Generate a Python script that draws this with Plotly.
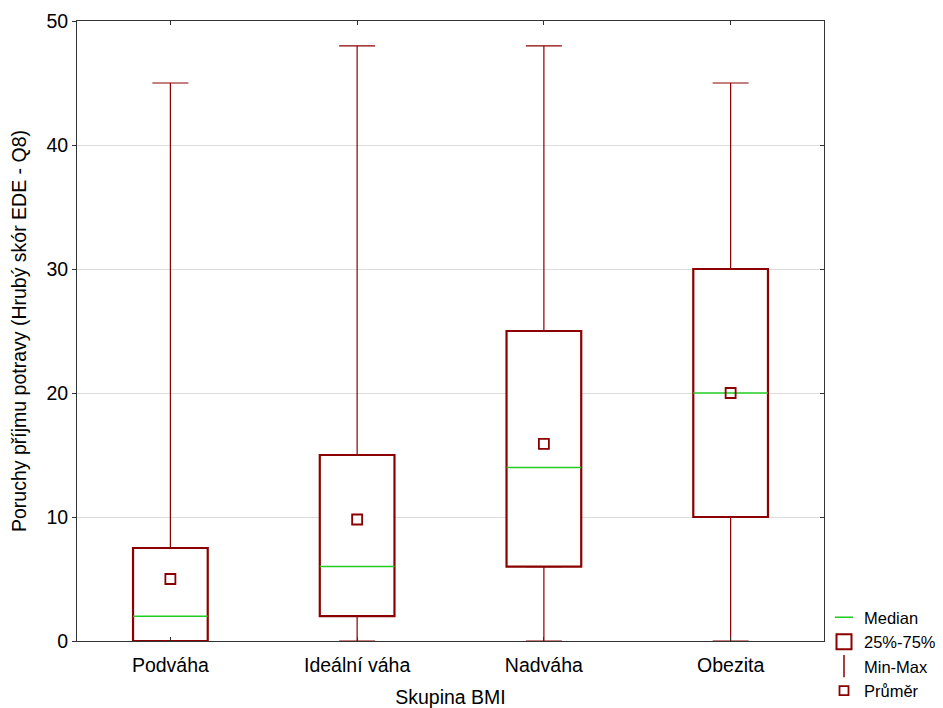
import plotly.graph_objects as go

categories = ["Podváha", "Ideální váha", "Nadváha", "Obezita"]
mins = [0, 0, 0, 0]
q1 = [0, 2, 6, 10]
medians = [2, 6, 14, 20]
q3 = [7.5, 15, 25, 30]
maxs = [45, 48, 48, 45]
means = [5.0, 9.8, 15.9, 20.0]

DARK = "#8B0000"
GREEN = "#22CC22"
BOXW = 0.4
FS = 19.5
xs = list(range(len(categories)))

fig = go.Figure()

# whiskers (lower and upper) drawn as error bars with caps
fig.add_trace(go.Scatter(
    x=xs, y=q1, mode="markers", marker=dict(size=1, color="rgba(0,0,0,0)"),
    error_y=dict(type="data", symmetric=False,
                 array=[0] * len(xs), arrayminus=[a - b for a, b in zip(q1, mins)],
                 color=DARK, thickness=1.2, width=18),
    showlegend=False, hoverinfo="skip"))
fig.add_trace(go.Scatter(
    x=xs, y=q3, mode="markers", marker=dict(size=1, color="rgba(0,0,0,0)"),
    error_y=dict(type="data", symmetric=False,
                 array=[a - b for a, b in zip(maxs, q3)], arrayminus=[0] * len(xs),
                 color=DARK, thickness=1.2, width=18),
    showlegend=False, hoverinfo="skip"))

# boxes
fig.add_trace(go.Bar(
    x=xs, y=[b - a for a, b in zip(q1, q3)], base=q1, width=BOXW,
    marker=dict(color="white", line=dict(color=DARK, width=2.2)),
    showlegend=False, hoverinfo="skip"))

# medians
mx, my = [], []
for i, m in zip(xs, medians):
    mx += [i - BOXW / 2, i + BOXW / 2, None]
    my += [m, m, None]
fig.add_trace(go.Scatter(x=mx, y=my, mode="lines", line=dict(color=GREEN, width=1.5),
                         showlegend=False, hoverinfo="skip"))

# means
fig.add_trace(go.Scatter(x=xs, y=means, mode="markers",
                         marker=dict(symbol="square-open", size=10, color=DARK,
                                     line=dict(width=1.8, color=DARK)),
                         showlegend=False))

# legend entries
fig.add_trace(go.Scatter(x=[None], y=[None], mode="markers", name="Median",
                         marker=dict(symbol="line-ew-open", size=13, color=GREEN,
                                     line=dict(width=1.5, color=GREEN))))
fig.add_trace(go.Scatter(x=[None], y=[None], mode="markers", name="25%-75%",
                         marker=dict(symbol="square-open", size=15, color=DARK,
                                     line=dict(width=2, color=DARK))))
fig.add_trace(go.Scatter(x=[None], y=[None], mode="markers", name="Min-Max",
                         marker=dict(symbol="line-ns-open", size=16, color=DARK,
                                     line=dict(width=1.5, color=DARK))))
fig.add_trace(go.Scatter(x=[None], y=[None], mode="markers", name="Průměr",
                         marker=dict(symbol="square-open", size=9, color=DARK,
                                     line=dict(width=1.8, color=DARK))))

# page body keeps an 8px default margin, so the figure is sized to fit the window
W, H = 935, 700
ML, MR, MT, MB = 69, 119, 13, 67
fig.update_layout(
    width=W, height=H,
    margin=dict(l=ML, r=MR, t=MT, b=MB),
    paper_bgcolor="white", plot_bgcolor="white",
    font=dict(family="Liberation Sans, Arial, sans-serif", size=FS, color="black"),
    barmode="overlay",
    legend=dict(xref="container", yref="container", x=(W - MR) / W, xanchor="left",
                y=0.0, yanchor="bottom",
                bgcolor="rgba(0,0,0,0)", font=dict(size=16.5),
                itemwidth=30, tracegroupgap=0),
    xaxis=dict(range=[-0.5, 3.5], tickvals=xs, ticktext=categories,
               showgrid=False, zeroline=False, showline=True, mirror="ticks",
               linecolor="#333333", linewidth=1, ticks="inside", ticklen=4,
               tickcolor="#333333", automargin=False, tickfont=dict(size=FS),
               ticklabelstandoff=7,
               title=dict(text="Skupina BMI", standoff=14, font=dict(size=FS))),
    yaxis=dict(range=[0, 50], tickvals=[0, 10, 20, 30, 40, 50],
               showgrid=True, gridcolor="#DCDCDC", gridwidth=1, zeroline=False,
               showline=True, mirror=True, linecolor="#333333", linewidth=1,
               ticks="outside", ticklen=4, tickcolor="#333333", automargin=False,
               tickfont=dict(size=FS),
               title=dict(text="Poruchy příjmu potravy (Hrubý skór EDE - Q8)",
                          standoff=17, font=dict(size=FS))),
    yaxis2=dict(range=[0, 50], tickvals=[0, 10, 20, 30, 40, 50], overlaying="y",
                side="right", showgrid=False, zeroline=False, showticklabels=False,
                ticks="inside", ticklen=4, tickcolor="#333333", automargin=False),
)
# invisible trace to activate the right-side tick axis
fig.add_trace(go.Scatter(x=[None], y=[None], yaxis="y2", showlegend=False, hoverinfo="skip"))

fig.write_html("out.html")
